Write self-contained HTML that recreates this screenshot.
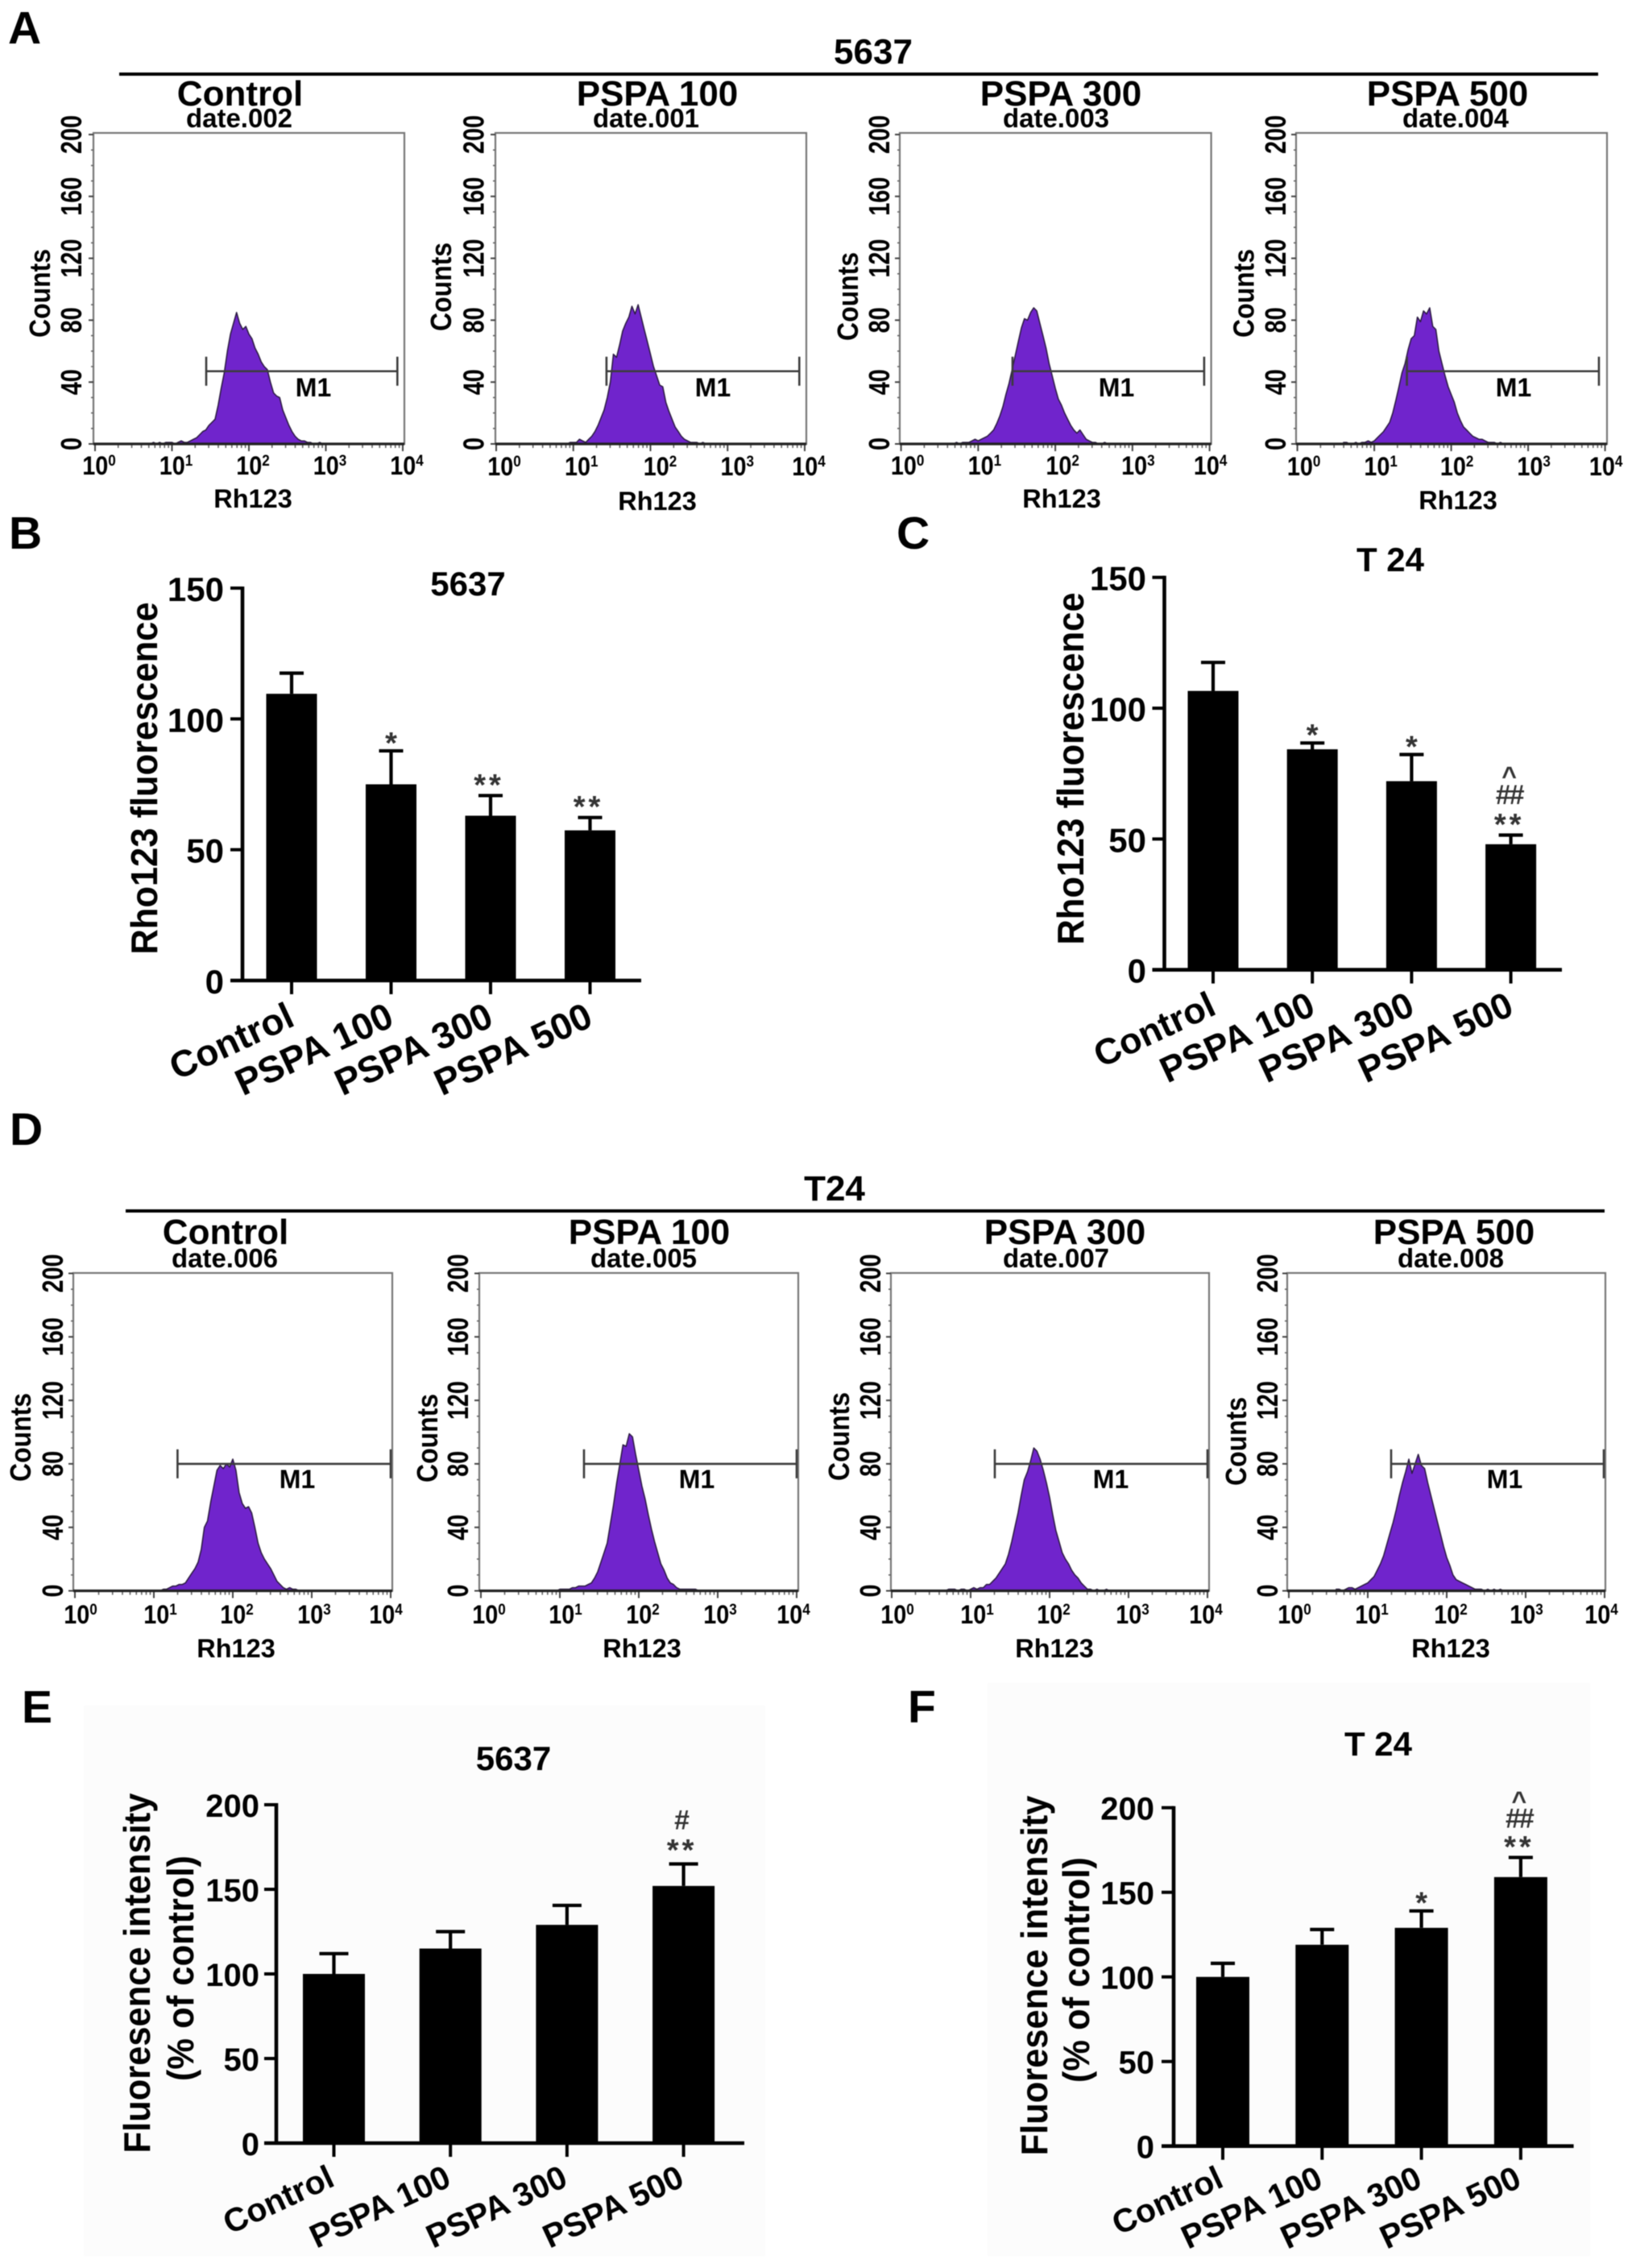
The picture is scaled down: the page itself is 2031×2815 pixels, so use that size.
<!DOCTYPE html>
<html lang="en">
<head>
<meta charset="utf-8">
<title>Rh123 flow cytometry and fluorescence bar charts</title>
<style>
html,body{margin:0;padding:0;background:#fff;width:2031px;height:2815px;overflow:hidden}
svg{display:block;font-family:"Liberation Sans",sans-serif;font-weight:bold;filter:blur(.6px)}
</style>
</head>
<body>
<svg id="figure" xmlns="http://www.w3.org/2000/svg" width="2031" height="2815" viewBox="0 0 2031 2815">
<rect x="0" y="0" width="2031" height="2815" fill="#ffffff"/>
<rect x="104" y="2117" width="846" height="683" fill="#fcfcfc"/>
<rect x="1226" y="2089" width="748" height="711" fill="#fcfcfc"/>
<text x="10" y="54" font-size="57">A</text>
<text x="11" y="681" font-size="57">B</text>
<text x="1113" y="681" font-size="57">C</text>
<text x="12" y="1421" font-size="57">D</text>
<text x="27" y="2138" font-size="57">E</text>
<text x="1127" y="2138" font-size="57">F</text>
<text x="1084" y="79" font-size="44" text-anchor="middle">5637</text>
<rect x="148" y="90" width="1836" height="4" fill="#000"/>
<text x="1036" y="1490" font-size="44" text-anchor="middle">T24</text>
<rect x="156" y="1501" width="1836" height="4" fill="#000"/>
</svg>
<script>
// ---------- histogram data: event counts per channel ----------
const histLogStart = 0.6;
const histLogStep = 0.04;
const histCountsA1 = [0,0,0,0,1,0,1,0,1,1,1,0,1,2,1,1,2,3,4,6,8,9,12,14,16,25,36,46,60,71,78,85,78,74,76,71,68,62,58,53,50,48,40,33,31,30,22,17,12,8,5,3,2,2,1,1,0,0,1,0];
const histCountsA2 = [0,0,0,0,0,0,0,0,0,1,1,1,3,2,1,3,5,8,12,17,22,30,40,58,56,64,73,78,82,89,84,90,82,74,66,58,50,44,38,37,27,21,16,11,8,5,3,2,1,1,1,0,1,0,0,0,0,0,0,0];
const histCountsA3 = [0,0,0,1,0,1,1,1,2,3,2,3,4,5,7,9,13,18,24,32,39,48,57,66,75,81,80,85,88,86,78,70,62,52,44,36,29,25,20,16,12,9,7,9,6,3,2,1,1,0,0,1,0,0,0,0,0,0,0,0];
const histCountsA4 = [1,1,0,0,1,0,1,1,2,1,2,4,6,8,11,14,20,28,37,46,52,61,68,70,82,79,86,84,88,76,74,60,52,44,37,32,27,20,15,11,9,7,5,4,3,3,2,1,1,1,0,1,0,0,0,0,0,0,0,0];
const histCountsD1 = [0,0,0,0,0,0,0,0,0,0,0,0,0,1,1,2,3,3,4,4,5,8,11,14,18,26,40,44,56,66,76,79,77,80,78,83,76,62,55,52,53,49,40,30,24,20,17,14,10,6,4,2,1,2,1,1,0,0,0,0];
const histCountsD2 = [0,0,0,0,0,0,0,0,0,0,1,1,1,1,2,2,3,3,3,4,5,8,12,18,24,30,42,54,68,80,92,91,99,97,86,76,66,58,48,39,31,24,17,13,8,5,4,2,1,1,1,1,1,1,0,0,0,0,0,0];
const histCountsD3 = [0,0,0,1,1,1,0,1,1,0,1,2,1,2,2,4,4,6,8,11,14,17,23,31,40,49,60,70,75,82,90,88,83,76,68,59,48,38,31,24,20,17,13,10,8,5,3,1,1,0,1,0,0,1,0,0,0,0,0,0];
const histCountsD4 = [1,1,0,1,2,2,1,2,3,4,5,7,9,13,17,22,29,36,43,51,60,68,75,83,74,80,86,79,77,68,60,52,44,36,28,21,16,10,7,6,5,4,3,2,1,1,1,0,1,0,1,0,1,0,0,0,0,0,0,0];

// ---------- flow-plot axes and labels ----------
const countTickValues = [0,40,80,120,160,200];
const logTickExponents = [0,1,2,3,4];
const gateLogsA1 = [1.445,3.93];
const gateLogsA2 = [1.43,3.93];
const gateLogsA3 = [1.445,3.93];
const gateLogsA4 = [1.424,3.92];
const gateLogsD1 = [1.30,4.0];
const gateLogsD2 = [1.306,4.0];
const gateLogsD3 = [1.306,4.0];
const gateLogsD4 = [1.296,3.99];
const gateCountA = 47;
const gateCountD = 80;

// ---------- bar chart data ----------
const barCategories = ['Control','PSPA 100','PSPA 300','PSPA 500'];
const rhoTicks = [0,50,100,150];
const intensityTicks = [0,50,100,150,200];
const valuesB = [109.6,75,63,57.4];
const errorTopsB = [117.5,87.8,70.7,62.3];
const marksB = [[],['*'],['**'],['**']];
const valuesC = [106.6,84.3,72.1,48];
const errorTopsC = [117.5,86.7,82.3,51.5];
const marksC = [[],['*'],['*'],['**','##','^']];
const valuesE = [100,115,129,152];
const errorTopsE = [112,125,140.5,165];
const marksE = [[],[],[],['**','#']];
const valuesF = [100,119,129,159];
const errorTopsF = [108,128,139,170.6];
const marksF = [[],[],['*'],['**','##','^']];

// ---------- layout (kept apart from the data) ----------
const flowLayouts = [
 {key:'a1',counts:histCountsA1,gate:gateLogsA1,gateCount:gateCountA,labDx:[5,5,5,5,5],title:'Control',date:'date.002',l:116,r:502,t:165,y0:551,k:1.92,x0:118,dec:95.5,yLab:88,cntX:49,cntY:364,titleX:298,titleY:131,dateX:297,dateY:158,rhX:314,rhY:630,m1X:389,m1Y:492,tickY:589},
 {key:'a2',counts:histCountsA2,gate:gateLogsA2,gateCount:gateCountA,labDx:[10,10,12,12,5],title:'PSPA 100',date:'date.001',l:615,r:1001,t:165,y0:551,k:1.92,x0:616,dec:95.75,yLab:587.5,cntX:547,cntY:356,titleX:816,titleY:131,dateX:802,dateY:158,rhX:816,rhY:633,m1X:885,m1Y:492,tickY:590},
 {key:'a3',counts:histCountsA3,gate:gateLogsA3,gateCount:gateCountA,labDx:[8,8,9,7,1],title:'PSPA 300',date:'date.003',l:1117,r:1503.6,t:165,y0:551,k:1.92,x0:1118.6,dec:95.75,yLab:1091,cntX:1052,cntY:368,titleX:1317,titleY:131,dateX:1311,dateY:158,rhX:1318,rhY:630,m1X:1386,m1Y:492,tickY:589},
 {key:'a4',counts:histCountsA4,gate:gateLogsA4,gateCount:gateCountA,labDx:[8,8,7,7,1],title:'PSPA 500',date:'date.004',l:1609,r:1995,t:165,y0:551,k:1.92,x0:1610.6,dec:95.5,yLab:1583,cntX:1543.5,cntY:364,titleX:1797,titleY:131,dateX:1807,dateY:158,rhX:1810,rhY:632,m1X:1879,m1Y:492,tickY:590},
 {key:'d1',counts:histCountsD1,gate:gateLogsD1,gateCount:gateCountD,labDx:[7,8,5,3,-6],title:'Control',date:'date.006',l:91,r:487,t:1580,y0:1974.5,k:1.97,x0:93,dec:98,yLab:65,cntX:25,cntY:1784,titleX:280,titleY:1544,dateX:279,dateY:1573,rhX:293,rhY:2057,m1X:369,m1Y:1847,tickY:2015},
 {key:'d2',counts:histCountsD2,gate:gateLogsD2,gateCount:gateCountD,labDx:[10,7,5,3,-4],title:'PSPA 100',date:'date.005',l:595,r:991,t:1580,y0:1974.5,k:1.97,x0:597,dec:98,yLab:568,cntX:530,cntY:1785,titleX:806,titleY:1544,dateX:799,dateY:1573,rhX:797,rhY:2057,m1X:865,m1Y:1847,tickY:2015},
 {key:'d3',counts:histCountsD3,gate:gateLogsD3,gateCount:gateCountD,labDx:[7,8,5,5,-2],title:'PSPA 300',date:'date.007',l:1106,r:1501,t:1580,y0:1974.5,k:1.97,x0:1107,dec:98,yLab:1080,cntX:1041,cntY:1783,titleX:1322,titleY:1544,dateX:1311,dateY:1573,rhX:1309,rhY:2057,m1X:1379,m1Y:1847,tickY:2015},
 {key:'d4',counts:histCountsD4,gate:gateLogsD4,gateCount:gateCountD,labDx:[7,5,5,1,-4],title:'PSPA 500',date:'date.008',l:1598,r:1993,t:1580,y0:1974.5,k:1.97,x0:1600,dec:98,yLab:1573,cntX:1534,cntY:1789,titleX:1805,titleY:1544,dateX:1801,dateY:1573,rhX:1801,rhY:2057,m1X:1868,m1Y:1847,tickY:2015}
];
const barLayouts = [
 {key:'b',values:valuesB,errs:errorTopsB,marks:marksB,ticks:rhoTicks,title:'5637',titleX:581,titleY:739,axX:301,y0:1217,k:3.247,xEnd:796,c0:362,step:123.5,bw:63,capW:30,tickEnd:278,tickDy:16,tickFs:42,yTitle:['Rho123 fluorescence'],yTitleX:[195],yTitleY:[966],catY:1272,catDx:6,catFs:46,markShift:0,markGap:30.5},
 {key:'c',values:valuesC,errs:errorTopsC,marks:marksC,ticks:rhoTicks,title:'T 24',titleX:1726,titleY:709,axX:1445.5,y0:1203.7,k:3.247,xEnd:1939,c0:1506,step:123.2,bw:63,capW:30,tickEnd:1423,tickDy:16,tickFs:42,yTitle:['Rho123 fluorescence'],yTitleX:[1345],yTitleY:[954],catY:1258,catDx:6,catFs:45,markShift:0,markGap:30.5},
 {key:'e',values:valuesE,errs:errorTopsE,marks:marksE,ticks:intensityTicks,title:'5637',titleX:637.5,titleY:2197,axX:343,y0:2660,k:2.1,xEnd:924,c0:414.5,step:144.7,bw:77,capW:36,tickEnd:322,tickDy:15,tickFs:40,yTitle:['Fluoresence intensity','(% of control)'],yTitleX:[186,240],yTitleY:[2449,2443],catY:2712,catDx:3,catFs:41,markShift:4,markGap:31},
 {key:'f',values:valuesF,errs:errorTopsF,marks:marksF,ticks:intensityTicks,title:'T 24',titleX:1711,titleY:2179,axX:1457,y0:2663.7,k:2.1,xEnd:1953.6,c0:1518,step:123.3,bw:66,capW:30,tickEnd:1433,tickDy:15,tickFs:40,yTitle:['Fluoresence intensity','(% of control)'],yTitleX:[1300,1352],yTitleY:[2452,2445],catY:2713,catDx:3,catFs:41,markShift:0,markGap:29}
];

const NS = 'http://www.w3.org/2000/svg';
const figure = document.getElementById('figure');

function svgEl(tag, parent, attrs){
  const node = document.createElementNS(NS, tag);
  for (const key in attrs) node.setAttribute(key, attrs[key]);
  parent.appendChild(node);
  return node;
}
function label(parent, str, x, y, size, rot, sx, anchor){
  const node = svgEl('text', parent, {
    'font-size': size,
    'text-anchor': anchor || 'middle',
    transform: 'translate(' + x + ' ' + y + ') rotate(' + (rot || 0) + ') scale(' + (sx || 1) + ' 1)'
  });
  node.textContent = str;
  return node;
}

function drawFlow(p){
  const xOf = function(lg){ return p.x0 + lg * p.dec; };
  const yOf = function(c){ return p.y0 - c * p.k; };
  let el;

  const g = svgEl('g', figure, {});
  
  

  el = label(g, p.title, p.titleX, p.titleY, 44);
  
  

  el = label(g, p.date, p.dateX, p.dateY, 33);
  
  

  el = svgEl('rect', g, {x:p.l, y:p.t, width:p.r-p.l, height:p.y0-p.t, fill:'#fff', stroke:'#777', 'stroke-width':2.2});
  
  

  // y axis ticks, every 10 counts with majors from the tick values
  let minor = '';
  for (let c = 0; c <= 200; c += 10) minor += 'M' + (p.l-3) + ' ' + yOf(c) + 'H' + p.l;
  let major = '';
  countTickValues.forEach(function(c){ major += 'M' + (p.l-6) + ' ' + yOf(c) + 'H' + p.l; });
  // x axis log ticks
  for (let d = 0; d < logTickExponents.length - 1; d++){
    for (let m = 2; m < 10; m++) minor += 'M' + xOf(d + Math.log10(m)) + ' ' + p.y0 + 'v5';
  }
  logTickExponents.forEach(function(e){ major += 'M' + xOf(e) + ' ' + p.y0 + 'v9'; });
  el = svgEl('path', g, {d:minor, stroke:'#666', 'stroke-width':1.6, fill:'none'});
  
  
  el = svgEl('path', g, {d:major, stroke:'#444', 'stroke-width':2, fill:'none'});
  
  

  countTickValues.forEach(function(c){
    const t = label(g, String(c), p.yLab + 13, yOf(c), 36, -90, 0.8);
    
    
  });

  logTickExponents.forEach(function(e, i){
    const t = svgEl('text', g, {
      'font-size': 32,
      'text-anchor': 'middle',
      transform: 'translate(' + (xOf(e) + p.labDx[i]) + ' ' + p.tickY + ') scale(0.9 1)'
    });
    
    
    const base = svgEl('tspan', t, {});
    base.textContent = '10';
    const sup = svgEl('tspan', t, {'font-size':19, dy:-11});
    sup.textContent = String(e);
  });

  el = label(g, 'Counts', p.cntX + 13, p.cntY, 36, -90, 0.887);
  
  

  el = label(g, 'Rh123', p.rhX, p.rhY, 32.5);
  
  

  // histogram outline joins each channel's count from the array
  let d = 'M' + xOf(histLogStart) + ' ' + yOf(0);
  p.counts.forEach(function(c, i){
    const lg = histLogStart + i * histLogStep;
    d += 'L' + xOf(lg).toFixed(1) + ' ' + yOf(c).toFixed(1);
  });
  d += 'L' + xOf(histLogStart + (p.counts.length - 1) * histLogStep) + ' ' + yOf(0) + 'Z';
  el = svgEl('path', g, {d:d, fill:'#7024cc', stroke:'#2a1a40', 'stroke-width':1.5, 'stroke-linejoin':'round'});
  
  

  el = svgEl('line', g, {x1:p.l, x2:p.r, y1:p.y0, y2:p.y0, stroke:'#222', 'stroke-width':3.2});
  
  

  // M1 marker gate
  const gy = yOf(p.gateCount);
  const gl = xOf(p.gate[0]);
  const gr = xOf(p.gate[1]);
  el = svgEl('path', g, {d:'M'+gl+' '+gy+'H'+gr+'M'+gl+' '+(gy-18)+'V'+(gy+18)+'M'+gr+' '+(gy-18)+'V'+(gy+18), fill:'none', stroke:'#3c3c3c', 'stroke-width':2.6});
  
  

  el = label(g, 'M1', p.m1X, p.m1Y, 32);
  
  
}

const markStyles = {
  '*': {size:38, lift:0.55, spacing:0},
  '**': {size:38, lift:0.46, spacing:4},
  '#': {size:34, lift:0.3, spacing:0},
  '##': {size:34, lift:0.3, spacing:-2},
  '^': {size:32, lift:0.52, spacing:0}
};

function drawBars(p){
  const yOf = function(v){ return p.y0 - v * p.k; };
  const xOf = function(i){ return p.c0 + i * p.step; };
  let el;

  const g = svgEl('g', figure, {});
  
  

  el = label(g, p.title, p.titleX, p.titleY, 42);
  
  

  p.yTitle.forEach(function(str, i){
    const t = label(g, str, p.yTitleX[i], p.yTitleY[i], 46, -90, 0.945);
    
    
  });

  p.values.forEach(function(v, i){
    const cx = xOf(i);
    const top = yOf(v);
    const errTop = yOf(p.errs[i]);

    const err = svgEl('path', g, {
      d:'M'+cx+' '+top+'V'+errTop+'M'+(cx-p.capW/2)+' '+errTop+'H'+(cx+p.capW/2),
      fill:'none', stroke:'#000', 'stroke-width':4.2
    });
    
    

    const bar = svgEl('rect', g, {x:cx-p.bw/2, y:top, width:p.bw, height:p.y0-top, fill:'#000'});
    
    

    const tick = svgEl('line', g, {x1:cx, x2:cx, y1:p.y0, y2:p.y0+17, stroke:'#000', 'stroke-width':4});
    
    

    const cat = label(g, barCategories[i], cx + p.catDx, p.catY, p.catFs, -25, 1, 'end');
    
    

    p.marks[i].forEach(function(sym, j){
      const st = markStyles[sym];
      const centre = errTop - 18 - p.markShift - j * p.markGap;
      const m = label(g, sym, cx + (sym === '*' ? 0 : -2), centre + st.lift * st.size, st.size);
      m.setAttribute('letter-spacing', st.spacing);
      m.setAttribute('fill', '#333');
      
      
    });
  });

  el = svgEl('line', g, {x1:p.axX, x2:p.axX, y1:yOf(p.ticks[p.ticks.length-1]) - 2, y2:p.y0, stroke:'#000', 'stroke-width':4.6});
  
  

  el = svgEl('line', g, {x1:p.axX-15, x2:p.xEnd, y1:p.y0, y2:p.y0, stroke:'#000', 'stroke-width':4.6});
  
  

  p.ticks.forEach(function(v){
    const tick = svgEl('line', g, {x1:p.axX-15, x2:p.axX, y1:yOf(v), y2:yOf(v), stroke:'#000', 'stroke-width':4});
    
    
    const t = label(g, String(v), p.tickEnd, yOf(v) + p.tickDy, p.tickFs, 0, 1, 'end');
    
    
  });
}

flowLayouts.forEach(drawFlow);
barLayouts.forEach(drawBars);
</script>
</body>
</html>
